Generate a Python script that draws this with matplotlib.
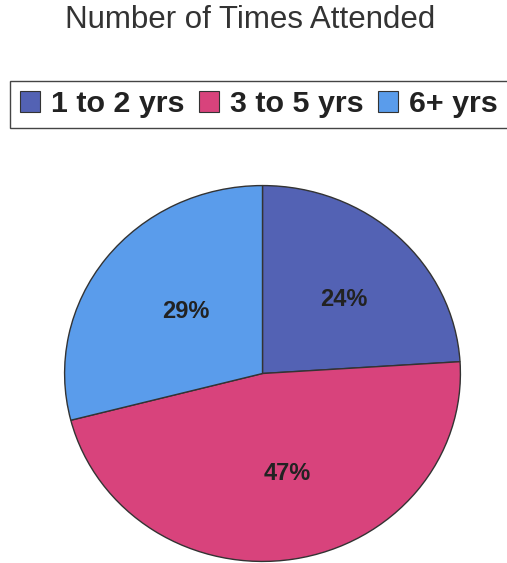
import matplotlib.pyplot as plt
from matplotlib.patches import Patch, Rectangle

# data
labels = ['1 to 2 yrs', '3 to 5 yrs', '6+ yrs']
shares = [24, 47, 29]
colors = ['#5362b4', '#d8437c', '#5a9ceb']

plt.rcParams['font.family'] = ['Liberation Sans', 'DejaVu Sans']

W, H = 507, 563
fig = plt.figure(figsize=(W / 100, H / 100), dpi=100)

# pie axes placed in pixel terms (slightly flattened, like the original)
left, right, top, bottom = 64, 461, 185, 562
ax = fig.add_axes([left / W, 1 - bottom / H, (right - left) / W, (bottom - top) / H])
wedges, texts, autotexts = ax.pie(
    shares, colors=colors, startangle=90, counterclock=False,
    autopct='%d%%', pctdistance=0.54,
    wedgeprops=dict(edgecolor='#333333', linewidth=1),
    textprops=dict(fontsize=17, fontweight='bold', color='#222222'))
# labels in the original sit a touch right of centre
for t in autotexts:
    x, y = t.get_position()
    t.set_position((x + 0.04, y))
ax.set_aspect('auto')
ax.set_xlim(-1.003, 1.003)
ax.set_ylim(-1.003, 1.003)

fig.text(250 / W, 1 - 28 / H, 'Number of Times Attended', ha='center', va='baseline',
         fontsize=22.5, color='#333333')

# legend box runs off the right edge
fig.add_artist(Rectangle((10 / W, 1 - 128 / H), 520 / W, 47 / H, transform=fig.transFigure,
                         facecolor='white', edgecolor='#444444', linewidth=1, clip_on=False))
handles = [Patch(facecolor=c, edgecolor='#333333', linewidth=0.8) for c in colors]
fig.legend(handles, labels, loc='center left', bbox_to_anchor=(20 / W, 1 - 104 / H), ncol=3,
           frameon=False, prop=dict(size=21.9, weight='bold'), handlelength=0.67, handleheight=0.67,
           handletextpad=0.36, columnspacing=0.46, borderaxespad=0, borderpad=0,
           labelcolor='#222222')

fig.savefig('out.png', dpi=100)
